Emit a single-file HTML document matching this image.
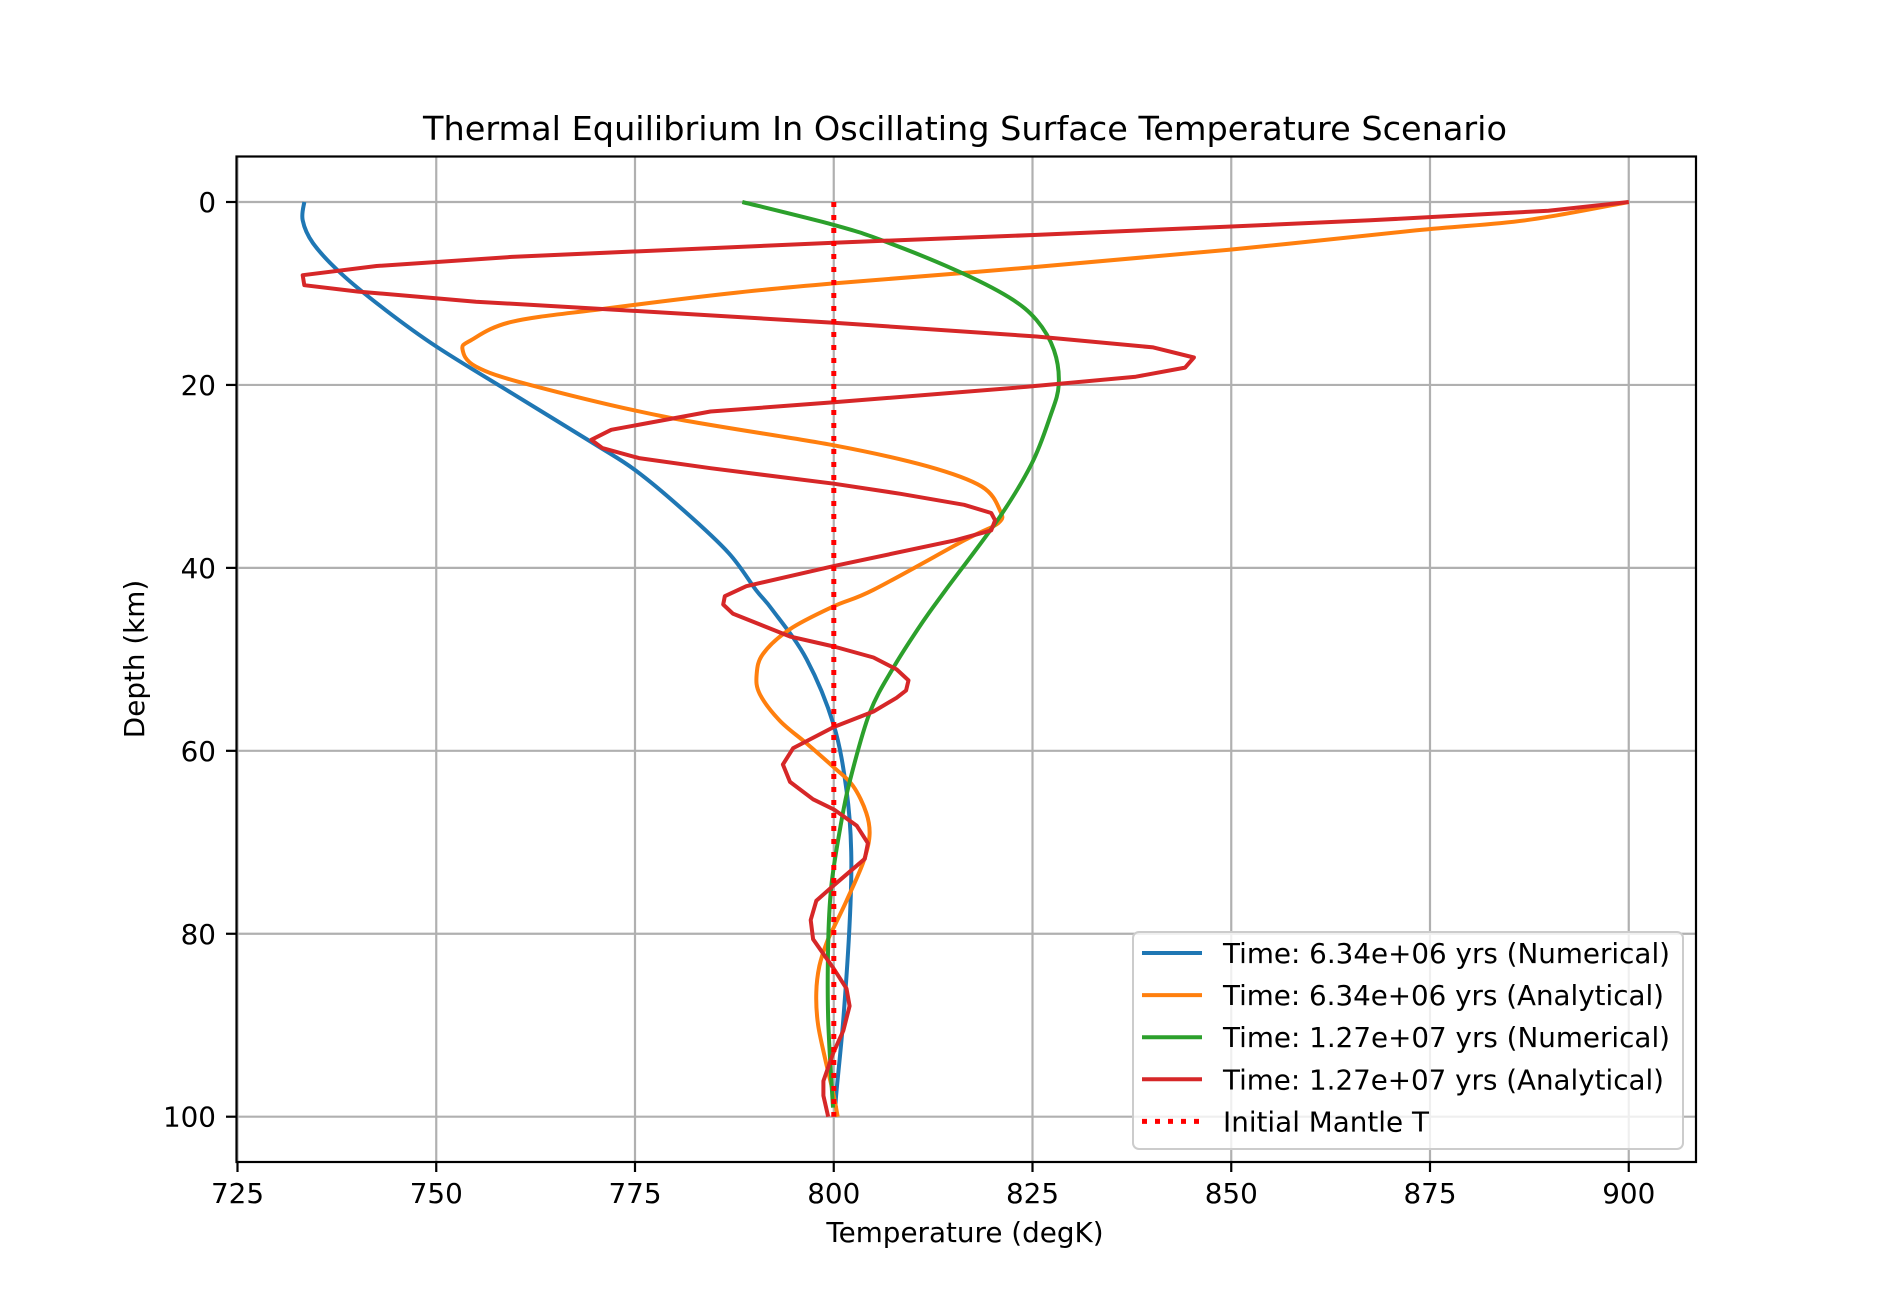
<!DOCTYPE html>
<html><head><meta charset="utf-8"><style>html,body{margin:0;padding:0;background:#fff}svg{display:block}text{font-family:"DejaVu Sans","Liberation Sans",sans-serif;fill:#000}</style></head>
<body>
<svg id="chart" width="1884" height="1306" viewBox="0 0 1884 1306" xmlns="http://www.w3.org/2000/svg">
<rect x="0" y="0" width="1884" height="1306" fill="#fff"/>
<text x="965" y="140" font-size="33.3" text-anchor="middle" textLength="1084" lengthAdjust="spacingAndGlyphs">Thermal Equilibrium In Oscillating Surface Temperature Scenario</text>
<g id="grid"></g>
<g id="series"></g>
<rect x="236.5" y="156.5" width="1459.5" height="1005.5" fill="none" stroke="#000" stroke-width="2.2"/>
<g id="ticks"></g>
<text x="965" y="1242" font-size="27.8" text-anchor="middle">Temperature (degK)</text>
<text x="0" y="0" font-size="27.8" text-anchor="middle" transform="translate(144,659) rotate(-90)">Depth (km)</text>
<g id="legend"></g>
</svg>
<script>
const xTicks = [725, 750, 775, 800, 825, 850, 875, 900];
const yTicks = [0, 20, 40, 60, 80, 100];
const blueT = [733.4,733.2,734.5,738,743.6,750,759.5,769.8,775,781.1,786.8,790.2,792.3,796.6,800,801.6,802.2,802,801.2,800.3,800.3];
const blueD = [0,2,4.5,7.8,11.8,15.8,20.9,26.4,29.3,33.7,38.4,42.4,44.6,50,57.2,64.3,71,78.9,89.4,97.7,99];
const orangeT = [900,887,873.2,849.9,825.5,800,786.8,770.9,759.5,754.4,753.3,755,761.8,778.9,800,811.8,818.6,820.9,820.7,816.4,805,800,794.5,791.1,790.3,790.7,793.2,796.6,800,802.4,804.1,804.5,803.7,801.6,800,799.1,798.2,797.8,798,798.9,799.9,800.5];
const orangeD = [0,2,3.1,5.2,7.1,8.9,10,11.7,13.1,15.1,16.1,18,20,23.5,26.6,28.9,31.1,33.7,35.1,37,42.4,44.2,46.7,49.4,51.7,53.8,56.7,59.2,61.8,63.8,66.8,69.3,72.2,76.4,79.3,81,83.5,86.4,89.8,93.6,97.3,100];
const greenT = [788.5,800,806.1,815.2,822,825.5,827.7,828.3,827.2,824.9,820.9,814.1,811.2,807.5,804.5,802,800.8,799.7,799.3,799.3,799.9];
const greenD = [0,2.5,4.2,7.4,10.4,12.9,16.2,20,23.5,28.6,34.4,42.4,45.9,50.9,55.9,63.4,68.5,74.7,81,89.4,99];
const redT = [900,889.9,867.5,849.3,825.5,800,759.5,742.5,733.2,733.4,740.2,755,770.9,800,825.5,840.2,845.3,844.2,838,824.3,800,784.5,772,769.5,770.9,775.5,784.5,800,808.4,816.4,819.8,820.3,819.8,815.2,800,789,786.3,786.1,787.3,794.5,800,805,807.9,809.4,809.1,807.9,805,800,794.9,793.6,794.5,797.4,800,802.9,804.3,803.9,800,797.8,797.1,797.4,799.9,801.6,802,801.2,799.9,798.7,798.7,799.3];
const redD = [0,0.95,2,2.7,3.6,4.45,6,7,8,9.1,9.8,10.9,11.7,13.2,14.7,15.9,17,18.1,19.1,20.2,21.9,22.9,24.9,26,26.9,28,29.1,30.8,31.9,33.1,34,34.8,35.9,37,39.8,42,43.1,44,45,47.5,48.6,49.8,51.1,52.3,53.4,54.2,55.7,57.4,59.7,61.5,63.4,65.3,66.4,68.2,70.1,71.8,74.7,76.4,78.5,80.6,83.7,86,87.9,90.6,93.1,96.1,97.7,100];
const mantleT = [800, 800];
const mantleD = [0, 100];
const legendLabels = ["Time: 6.34e+06 yrs (Numerical)","Time: 6.34e+06 yrs (Analytical)","Time: 1.27e+07 yrs (Numerical)","Time: 1.27e+07 yrs (Analytical)","Initial Mantle T"];

const NS = "http://www.w3.org/2000/svg";
function xs(t){ return 237.5 + (t - 725) * 7.95; }
function ys(d){ return 202 + d * 9.147; }
function mk(tag, attrs, parent){ const e = document.createElementNS(NS, tag); for (const k in attrs) e.setAttribute(k, attrs[k]); parent.appendChild(e); return e; }

const grid = document.getElementById('grid');
const ticks = document.getElementById('ticks');
xTicks.forEach(v => {
  const g = mk('line', {x1: xs(v), x2: xs(v), y1: 156.5, y2: 1162, stroke: '#b0b0b0', 'stroke-width': 2.2}, grid);
  
  
  const t = mk('line', {x1: xs(v), x2: xs(v), y1: 1162, y2: 1172, stroke: '#000', 'stroke-width': 2.2}, ticks);
  
  
  const l = mk('text', {x: xs(v), y: 1203, 'font-size': 27.8, 'text-anchor': 'middle'}, ticks);
  l.textContent = v;
  
  
});
yTicks.forEach(v => {
  const g = mk('line', {x1: 236.5, x2: 1696, y1: ys(v), y2: ys(v), stroke: '#b0b0b0', 'stroke-width': 2.2}, grid);
  
  
  const t = mk('line', {x1: 226, x2: 236.5, y1: ys(v), y2: ys(v), stroke: '#000', 'stroke-width': 2.2}, ticks);
  
  
  const l = mk('text', {x: 216, y: ys(v) + 10, 'font-size': 27.8, 'text-anchor': 'end'}, ticks);
  l.textContent = v;
  
  
});

function smoothPath(P){
  let d = 'M' + P[0][0].toFixed(1) + ',' + P[0][1].toFixed(1);
  for (let i = 0; i < P.length - 1; i++) {
    const p0 = P[i - 1] || P[i], p1 = P[i], p2 = P[i + 1], p3 = P[i + 2] || P[i + 1];
    const c1x = p1[0] + (p2[0] - p0[0]) / 6, c1y = p1[1] + (p2[1] - p0[1]) / 6;
    const c2x = p2[0] - (p3[0] - p1[0]) / 6, c2y = p2[1] - (p3[1] - p1[1]) / 6;
    d += ' C' + c1x.toFixed(1) + ',' + c1y.toFixed(1) + ' ' + c2x.toFixed(1) + ',' + c2y.toFixed(1) + ' ' + p2[0].toFixed(1) + ',' + p2[1].toFixed(1);
  }
  return d;
}

const series = document.getElementById('series');
const defs = [
  {T: blueT, D: blueD, c: '#1f77b4', name: 'numerical-6e6-line', smooth: true},
  {T: orangeT, D: orangeD, c: '#ff7f0e', name: 'analytical-6e6-line', smooth: true},
  {T: greenT, D: greenD, c: '#2ca02c', name: 'numerical-1e7-line', smooth: true},
  {T: redT, D: redD, c: '#d62728', name: 'analytical-1e7-line'},
  {T: mantleT, D: mantleD, c: '#ff0000', name: 'initial-mantle-line', dot: true}
];
defs.forEach(s => {
  const P = s.T.map((t, i) => [xs(t), ys(s.D[i])]);
  const attrs = {d: s.smooth ? smoothPath(P) : 'M' + P.map(p => p[0].toFixed(1) + ',' + p[1].toFixed(1)).join(' L'), fill: 'none', stroke: s.c, 'stroke-width': s.dot ? 5 : 4, 'stroke-linejoin': 'round'};
  if (s.dot) attrs['stroke-dasharray'] = '5 8';
  const p = mk('path', attrs, series);
  
  
});

const legend = document.getElementById('legend');
const box = mk('rect', {x: 1133, y: 932, width: 550, height: 217, rx: 6, fill: '#fff', 'fill-opacity': 0.8, stroke: '#cccccc', 'stroke-width': 2}, legend);


const textLens = [447, 441, 447, 441, 0];
legendLabels.forEach((lab, i) => {
  const y = 953 + i * 42.1;
  const s = defs[i];
  const la = {x1: 1142, x2: 1202, y1: y, y2: y, stroke: s.c, 'stroke-width': s.dot ? 5 : 4};
  if (s.dot) la['stroke-dasharray'] = '5 8';
  const ln = mk('line', la, legend);
  
  
  const ta = {x: 1223, y: y + 10, 'font-size': 27.8};
  if (textLens[i]) { ta.textLength = textLens[i]; ta.lengthAdjust = 'spacingAndGlyphs'; }
  const tx = mk('text', ta, legend);
  tx.textContent = lab;
  
  
});
</script>
</body></html>
